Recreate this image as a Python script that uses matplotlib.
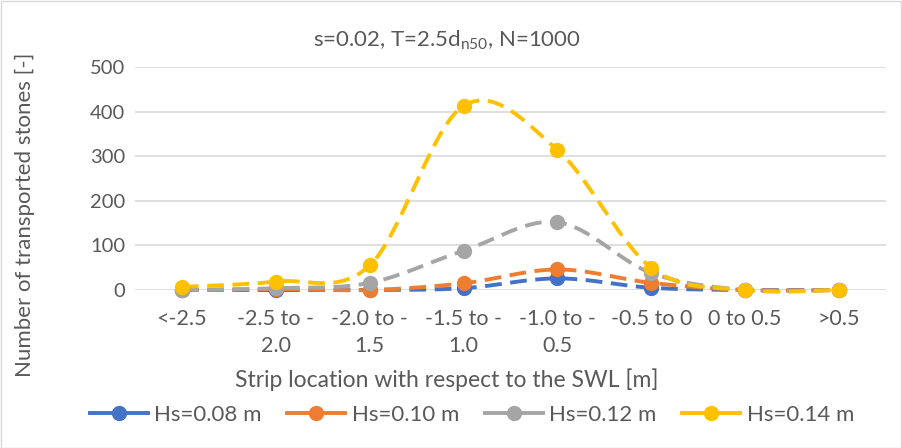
import numpy as np
import matplotlib
matplotlib.use("Agg")
import matplotlib.pyplot as plt
from matplotlib.lines import Line2D

categories = ["<-2.5", "-2.5 to -\n2.0", "-2.0 to -\n1.5", "-1.5 to -\n1.0",
              "-1.0 to -\n0.5", "-0.5 to 0", "0 to 0.5", ">0.5"]
hs_008 = [0, 0, 0, 4, 26, 5, 0, 0]
hs_010 = [0, 2, 0, 15, 46, 16, 0, 0]
hs_012 = [0, 4, 16, 88, 152, 38, 0, 0]
hs_014 = [7, 19, 55, 413, 314, 50, 0, 0]
series_labels = ["Hs=0.08 m", "Hs=0.10 m", "Hs=0.12 m", "Hs=0.14 m"]
colors = ["#4472C4", "#ED7D31", "#A5A5A5", "#FFC000"]
yticks = [0, 100, 200, 300, 400, 500]

plt.rcParams['font.family'] = ['Lato', 'DejaVu Sans']
text_color = "#595959"


def smooth(x, y, n=30):
    """Cubic Bezier smoothing through every point (Catmull-Rom style)."""
    x = np.asarray(x, float)
    y = np.asarray(y, float)
    px = np.concatenate([[x[0]], x, [x[-1]]])
    py = np.concatenate([[y[0]], y, [y[-1]]])
    xs, ys = [], []
    t = np.linspace(0, 1, n)
    for i in range(len(x) - 1):
        p0 = np.array([px[i + 1], py[i + 1]])
        p3 = np.array([px[i + 2], py[i + 2]])
        c1 = p0 + (np.array([px[i + 2], py[i + 2]]) - np.array([px[i], py[i]])) / 6
        c2 = p3 - (np.array([px[i + 3], py[i + 3]]) - np.array([px[i + 1], py[i + 1]])) / 6
        b = ((1 - t) ** 3)[:, None] * p0 + (3 * (1 - t) ** 2 * t)[:, None] * c1 \
            + (3 * (1 - t) * t ** 2)[:, None] * c2 + (t ** 3)[:, None] * p3
        xs.append(b[:, 0] if i == 0 else b[1:, 0])
        ys.append(b[:, 1] if i == 0 else b[1:, 1])
    return np.concatenate(xs), np.concatenate(ys)


fig = plt.figure(figsize=(9.02, 4.48), dpi=100)
ax = fig.add_axes([135 / 902, 1 - 290 / 448, (886 - 135) / 902, (290 - 67) / 448])

xpos = np.arange(len(categories))
lw = 2.8
for vals, col in zip([hs_008, hs_010, hs_012, hs_014], colors):
    sx, sy = smooth(xpos, vals)
    ax.plot(sx, sy, color=col, lw=lw, dashes=(4.3, 2.2), solid_capstyle='butt',
            dash_capstyle='butt', clip_on=False, zorder=3)
    ax.plot(xpos, vals, 'o', color=col, ms=10, clip_on=False, zorder=4)

ax.set_xlim(-0.5, len(categories) - 0.5)
ax.set_ylim(0, 500)
ax.set_yticks(yticks)
ax.set_yticklabels([str(v) for v in yticks])
ax.set_xticks(xpos)
ax.set_xticklabels(categories, linespacing=1.4)
ax.grid(axis='y', color="#D9D9D9", lw=1.2)
ax.set_axisbelow(True)
for s in ax.spines.values():
    s.set_visible(False)
ax.tick_params(axis='x', length=0, labelsize=15.5, colors=text_color, pad=14)
ax.tick_params(axis='y', length=0, labelsize=14.5, colors=text_color, pad=7)

fig.text(447 / 902, 1 - 40 / 448, r"s=0.02, T=2.5d$_{\mathregular{n50}}$, N=1000",
         ha='center', va='center', fontsize=16, color=text_color)
fig.text(25 / 902, 1 - 215 / 448, "Number of transported stones [-]", rotation=90,
         ha='center', va='center', fontsize=16, color=text_color)
fig.text(447 / 902, 1 - 380 / 448, "Strip location with respect to the SWL [m]",
         ha='center', va='center', fontsize=16.5, color=text_color)

handles = [Line2D([0], [0], color=c, lw=lw, marker='o', ms=10) for c in colors]
fig.legend(handles, series_labels, loc='center', bbox_to_anchor=(472 / 902, 1 - 415 / 448),
           ncol=4, frameon=False, fontsize=16, labelcolor=text_color,
           handlelength=2.6, columnspacing=1.15, handletextpad=0.3)

fig.patches.append(plt.Rectangle((0.5 / 902, 0.5 / 448), 1 - 1.5 / 902, 1 - 1.5 / 448,
                                 transform=fig.transFigure, fill=False,
                                 edgecolor="#D9D9D9", lw=1))

fig.savefig("out.png", dpi=100)
